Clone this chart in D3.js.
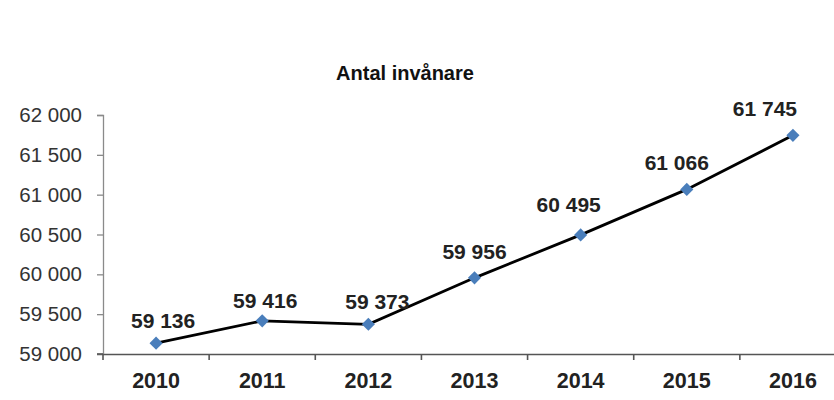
<!DOCTYPE html>
<html><head><meta charset="utf-8">
<script src="https://cdn.jsdelivr.net/npm/d3@7"></script>
<style>body{margin:0;background:#fff}svg{display:block}text{font-family:Arial,"Liberation Sans",sans-serif}</style>
</head><body><svg id="c" width="834" height="400"></svg>
<script>
const years = ["2010","2011","2012","2013","2014","2015","2016"];
const population = [59136, 59416, 59373, 59956, 60495, 61066, 61745];
const yTicks = [59000, 59500, 60000, 60500, 61000, 61500, 62000];
const title = "Antal invånare";
// label nudges (layout only)
const labelDx = [7, 3, 9, 0, -12, -10, -28];
const labelDy = [15, 13, 15, 19, 23, 19, 19];

const svg = d3.select("#c");
const fmt = v => d3.format(",")(v).replace(/,/g, " ");
const x = d3.scaleBand().domain(years).range([103, 846]);
const y = d3.scaleLinear().domain([59000, 62000]).range([354, 115]);

svg.append("text").attr("x", 405).attr("y", 80).attr("text-anchor", "middle")
  .attr("font-size", 20).attr("font-weight", "bold").attr("fill", "#111").text(title);

// y axis
const ya = svg.append("g").attr("transform", "translate(103,0)")
  .call(d3.axisLeft(y).tickValues(yTicks).tickFormat(fmt).tickSize(6).tickPadding(15));
ya.select(".domain").attr("stroke", "#8a8a8a").attr("stroke-width", 1.3);
ya.selectAll(".tick line").attr("stroke", "#8a8a8a").attr("stroke-width", 1.3);
ya.selectAll("text").attr("font-size", 20.5).attr("fill", "#333")
  .attr("font-family", "Arial, 'Liberation Sans', sans-serif");

// x axis
const xa = svg.append("g").attr("transform", "translate(0,354)")
  .call(d3.axisBottom(x).tickSize(0).tickPadding(19));
xa.select(".domain").attr("stroke", "#555").attr("stroke-width", 1.6);
xa.selectAll("text").attr("font-size", 21.5).attr("font-weight", "bold").attr("fill", "#222")
  .attr("font-family", "Arial, 'Liberation Sans', sans-serif");
xa.selectAll(".bnd").data(years).enter().append("line")
  .attr("x1", d => x(d)).attr("x2", d => x(d)).attr("y1", 0).attr("y2", 6)
  .attr("stroke", "#555").attr("stroke-width", 1.6);
svg.append("line").attr("x1", 97).attr("x2", 103).attr("y1", 354).attr("y2", 354)
  .attr("stroke", "#555").attr("stroke-width", 1.6);

const cx = d => x(d) + x.bandwidth() / 2;
const line = d3.line().x((d, i) => cx(years[i])).y(d => y(d));
svg.append("path").datum(population).attr("d", line)
  .attr("fill", "none").attr("stroke", "#000").attr("stroke-width", 2.8);

svg.selectAll(".mk").data(population).enter().append("path")
  .attr("d", d3.symbol().type(d3.symbolDiamond2).size(110))
  .attr("transform", (d, i) => `translate(${cx(years[i])},${y(d)})`)
  .attr("fill", "#4a7ebb");

svg.selectAll(".lb").data(population).enter().append("text")
  .attr("x", (d, i) => cx(years[i]) + labelDx[i])
  .attr("y", (d, i) => y(d) - labelDy[i])
  .attr("text-anchor", "middle").attr("font-size", 21).attr("font-weight", "bold")
  .attr("fill", "#222").text(fmt);
</script></body></html>
